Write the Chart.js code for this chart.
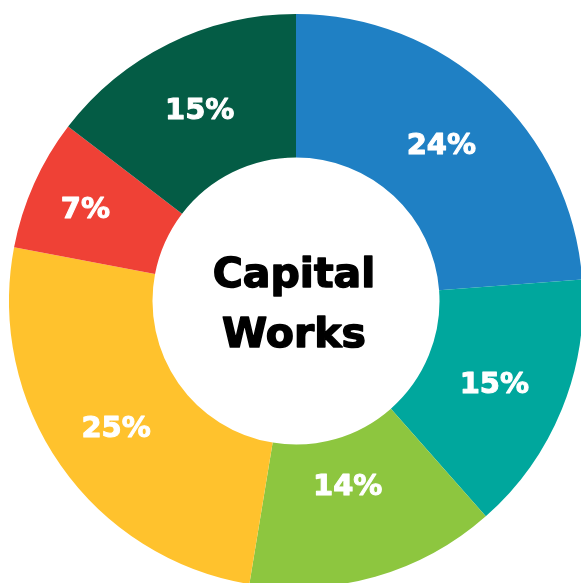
<!DOCTYPE html>
<html lang="en">
<head>
  <meta charset="UTF-8">
  <title>Capital Works</title>
  <script src="https://cdn.jsdelivr.net/npm/chart.js"></script>
  <style>
    html, body {
      margin: 0;
      padding: 0;
      background: #ffffff;
      overflow: hidden;
      width: 581px;
      height: 583px;
    }
    .wrap {
      position: absolute;
      left: 9px;
      top: 14px;
      width: 574px;
      height: 574px;
    }
  </style>
</head>
<body>
  <div class="wrap"><canvas id="chart"></canvas></div>

  <script>
    const categories = ["A", "B", "C", "D", "E", "F"];
    // slice sizes; the printed labels are rounded
    const shares = [23.8, 14.7, 14.1, 25.4, 7.4, 14.6];
    const shareLabels = ["24%", "15%", "14%", "25%", "7%", "15%"];
    const colours = ["#1f80c4", "#00a79d", "#8dc63f", "#ffc22d", "#ef4136", "#045c45"];
    const centreLines = ["Capital", "Works"];

    // where across the ring each label sits (0 = hole edge, 1 = outer edge)
    const labelDepth = [0.5, 0.5, 0.33, 0.52, 0.6, 0.5];

    const FONT = "'DejaVu Sans', sans-serif";

    const labelPlugin = {
      id: "labels",
      afterDatasetsDraw(chart) {
        const ctx = chart.ctx;
        const meta = chart.getDatasetMeta(0);
        ctx.save();
        ctx.textAlign = "center";
        ctx.textBaseline = "alphabetic";
        ctx.lineJoin = "round";

        ctx.fillStyle = "#ffffff";
        ctx.strokeStyle = "#ffffff";
        ctx.lineWidth = 1;
        ctx.font = "bold 29px " + FONT;
        meta.data.forEach((arc, i) => {
          const mid = (arc.startAngle + arc.endAngle) / 2;
          const r = arc.innerRadius + labelDepth[i] * (arc.outerRadius - arc.innerRadius);
          const x = arc.x + r * Math.cos(mid);
          const y = arc.y + r * Math.sin(mid);
          ctx.fillText(shareLabels[i], x - 1, y + 11);
          ctx.strokeText(shareLabels[i], x - 1, y + 11);
        });

        const c = meta.data[0];
        ctx.fillStyle = "#000000";
        ctx.strokeStyle = "#000000";
        ctx.lineWidth = 1.5;
        ctx.font = "bold 41px " + FONT;
        ctx.fillText(centreLines[0], c.x - 2, c.y - 14);
        ctx.strokeText(centreLines[0], c.x - 2, c.y - 14);
        ctx.fillText(centreLines[1], c.x - 2, c.y + 46);
        ctx.strokeText(centreLines[1], c.x - 2, c.y + 46);
        ctx.restore();
      }
    };

    new Chart(document.getElementById("chart"), {
      type: "doughnut",
      data: {
        labels: categories,
        datasets: [{
          data: shares,
          backgroundColor: colours,
          borderWidth: 0
        }]
      },
      options: {
        responsive: true,
        maintainAspectRatio: false,
        animation: false,
        cutout: "50%",
        layout: { padding: 0 },
        plugins: {
          legend: { display: false },
          tooltip: { enabled: false }
        }
      },
      plugins: [labelPlugin]
    });
  </script>
</body>
</html>
